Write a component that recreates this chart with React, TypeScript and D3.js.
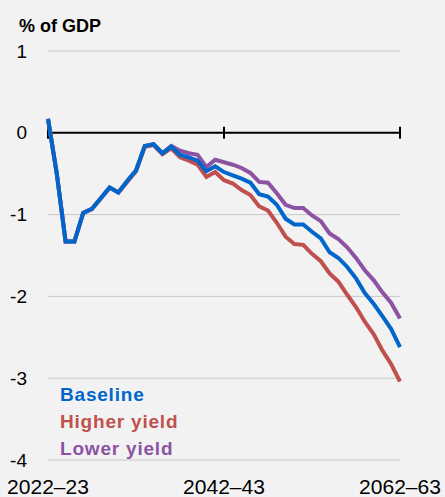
import React, { useEffect, useRef } from 'react';
import * as d3 from 'd3';

const tickYears = ['2022–23', '2042–43', '2062–63'];
const tickIndex = [0, 20, 40];
const yTicks = [1, 0, -1, -2, -3, -4];

const baseline = [
  0.17, -0.5, -1.33, -1.33, -0.98, -0.93, -0.8, -0.67, -0.73, -0.59, -0.46, -0.16, -0.14, -0.25, -0.17,
  -0.27, -0.3, -0.34, -0.47, -0.41, -0.48, -0.52, -0.56, -0.61, -0.75, -0.78, -0.88, -1.05, -1.12, -1.12,
  -1.21, -1.29, -1.46, -1.53, -1.64, -1.78, -1.96, -2.09, -2.24, -2.4, -2.62,
];
const higherYield = [
  0.17, -0.5, -1.33, -1.33, -0.98, -0.93, -0.8, -0.67, -0.73, -0.6, -0.47, -0.17, -0.15, -0.26, -0.19,
  -0.3, -0.34, -0.39, -0.54, -0.48, -0.58, -0.62, -0.7, -0.76, -0.9, -0.95, -1.1, -1.27, -1.36, -1.37,
  -1.48, -1.57, -1.72, -1.82, -1.98, -2.13, -2.31, -2.46, -2.66, -2.83, -3.04,
];
const lowerYield = [
  0.17, -0.5, -1.33, -1.33, -0.98, -0.93, -0.8, -0.67, -0.73, -0.59, -0.46, -0.16, -0.14, -0.25, -0.16,
  -0.22, -0.25, -0.27, -0.42, -0.33, -0.36, -0.39, -0.43, -0.49, -0.6, -0.61, -0.74, -0.88, -0.92, -0.92,
  -1.01, -1.08, -1.23, -1.3, -1.4, -1.53, -1.68, -1.8, -1.95, -2.08, -2.27,
];

const series = [
  { name: 'Higher yield', values: higherYield, color: '#c0504d' },
  { name: 'Lower yield', values: lowerYield, color: '#8c52a4' },
  { name: 'Baseline', values: baseline, color: '#0066cc' },
];
const legendOrder = ['Baseline', 'Higher yield', 'Lower yield'];

const W = 445;
const H = 497;
const font = '"Liberation Sans", Arial, sans-serif';

export default function App() {
  const svgRef = useRef<SVGSVGElement>(null);

  useEffect(() => {
    if (!svgRef.current) return;
    const svg = d3.select(svgRef.current);
    svg.selectAll('*').remove();

    const x = d3.scaleLinear().domain([0, 40]).range([48, 400]);
    const y = d3.scaleLinear().domain([-4, 1]).range([460, 51]);

    svg.append('rect').attr('width', W).attr('height', H).attr('fill', '#f2f2f2');

    // gridlines
    svg.append('g')
      .selectAll('line')
      .data(yTicks.filter(t => t !== 0))
      .enter()
      .append('line')
      .attr('x1', x(0))
      .attr('x2', x(40))
      .attr('y1', d => y(d))
      .attr('y2', d => y(d))
      .attr('stroke', '#c8c8c8')
      .attr('stroke-width', 1);

    // zero axis with ticks
    const axis = svg.append('g');
    axis.append('line')
      .attr('x1', x(0)).attr('x2', x(40))
      .attr('y1', y(0)).attr('y2', y(0))
      .attr('stroke', '#000').attr('stroke-width', 2);
    axis.selectAll('line.tick')
      .data(tickIndex)
      .enter()
      .append('line')
      .attr('class', 'tick')
      .attr('x1', d => x(d)).attr('x2', d => x(d))
      .attr('y1', y(0) - 6).attr('y2', y(0) + 6)
      .attr('stroke', '#000').attr('stroke-width', 2);

    // y labels
    svg.append('g')
      .selectAll('text')
      .data(yTicks)
      .enter()
      .append('text')
      .attr('x', 27)
      .attr('y', d => y(d))
      .attr('dy', '0.35em')
      .attr('text-anchor', 'end')
      .attr('font-family', font)
      .attr('font-size', 19)
      .attr('fill', '#000')
      .text(d => (d < 0 ? `-${Math.abs(d)}` : `${d}`));

    // x labels
    svg.append('g')
      .selectAll('text')
      .data(tickIndex)
      .enter()
      .append('text')
      .attr('x', d => x(d))
      .attr('y', 494)
      .attr('text-anchor', 'middle')
      .attr('font-family', font)
      .attr('font-size', 21)
      .attr('fill', '#000')
      .text((d, i) => tickYears[i]);

    // title
    svg.append('text')
      .attr('x', 19)
      .attr('y', 32)
      .attr('font-family', font)
      .attr('font-size', 18)
      .attr('font-weight', 'bold')
      .attr('fill', '#000')
      .text('% of GDP');

    const line = d3.line<number>()
      .x((d, i) => x(i))
      .y(d => y(d));

    svg.append('g')
      .selectAll('path')
      .data(series)
      .enter()
      .append('path')
      .attr('d', d => line(d.values))
      .attr('fill', 'none')
      .attr('stroke', d => d.color)
      .attr('stroke-width', 4)
      .attr('stroke-linejoin', 'miter');

    // legend
    svg.append('g')
      .selectAll('text')
      .data(legendOrder)
      .enter()
      .append('text')
      .attr('x', 60)
      .attr('y', (d, i) => 401 + i * 27)
      .attr('font-family', font)
      .attr('font-size', 19)
      .attr('font-weight', 'bold')
      .attr('letter-spacing', 0.8)
      .attr('fill', d => series.find(s => s.name === d)!.color)
      .text(d => d);
  }, []);

  return (
    <svg
      ref={svgRef}
      width={W}
      height={H}
      style={{ position: 'absolute', left: 0, top: 0, display: 'block' }}
    />
  );
}
